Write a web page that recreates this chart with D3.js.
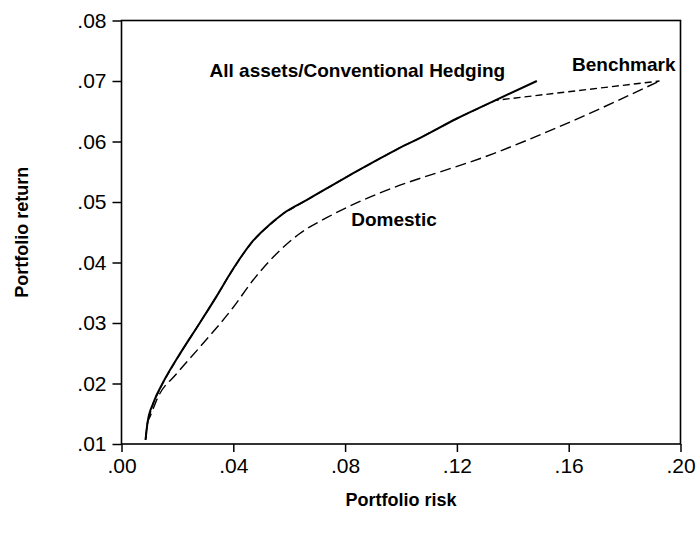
<!DOCTYPE html>
<html>
<head>
<meta charset="utf-8">
<script src="https://cdn.jsdelivr.net/npm/d3@7"></script>
<style>
  html, body { margin: 0; padding: 0; background: #fff; }
  svg { display: block; }
  text { font-family: "Liberation Sans", Arial, Helvetica, sans-serif; fill: #000; }
</style>
</head>
<body>
<svg id="chart" width="699" height="537"></svg>
<script>
// ---- Data ----
const xTicks = [0.00, 0.04, 0.08, 0.12, 0.16, 0.20];
const yTicks = [0.01, 0.02, 0.03, 0.04, 0.05, 0.06, 0.07, 0.08];

// All assets / Conventional Hedging (solid)
const allRisk   = [0.0086, 0.0093, 0.0113, 0.0149, 0.0209, 0.0280, 0.0340, 0.0388, 0.0435, 0.0471, 0.0507, 0.0579, 0.0662, 0.0800, 0.0925, 0.0997, 0.1056, 0.1200, 0.1337, 0.1486];
const allReturn = [0.0107, 0.0135, 0.0167, 0.0202, 0.0249, 0.0300, 0.0344, 0.0381, 0.0414, 0.0436, 0.0453, 0.0481, 0.0503, 0.0540, 0.0572, 0.0590, 0.0603, 0.0638, 0.0668, 0.0700];

// Benchmark (short dashes) – coincides with the solid frontier, then branches off
const benchRisk   = [0.0086, 0.0093, 0.0113, 0.0149, 0.0209, 0.0280, 0.0340, 0.0388, 0.0435, 0.0471, 0.0507, 0.0579, 0.0662, 0.0800, 0.0925, 0.0997, 0.1056, 0.1200, 0.1337, 0.1925];
const benchReturn = [0.0107, 0.0135, 0.0167, 0.0202, 0.0249, 0.0300, 0.0344, 0.0381, 0.0414, 0.0436, 0.0453, 0.0481, 0.0503, 0.0540, 0.0572, 0.0590, 0.0603, 0.0638, 0.0668, 0.0700];

// Domestic (long dashes)
const domRisk   = [0.0086, 0.0093, 0.0102, 0.0131, 0.0197, 0.0280, 0.0400, 0.0471, 0.0543, 0.0638, 0.0734, 0.0853, 0.0925, 0.1331, 0.1594, 0.1925];
const domReturn = [0.0107, 0.0135, 0.0145, 0.0178, 0.0216, 0.0260, 0.0326, 0.0371, 0.0409, 0.0448, 0.0474, 0.0501, 0.0515, 0.0580, 0.0630, 0.0700];

const labels = [
  { text: "All assets/Conventional Hedging", x: 0.0315, y: 0.0706 },
  { text: "Benchmark",                       x: 0.1612, y: 0.0716 },
  { text: "Domestic",                        x: 0.0822, y: 0.0461 }
];

// ---- Layout ----
const svg = d3.select("#chart");
const margin = { left: 121.5, right: 18.5, top: 20.5, bottom: 93 };
const W = 699, H = 537;
const x = d3.scaleLinear().domain([0, 0.20]).range([margin.left, W - margin.right]);
const y = d3.scaleLinear().domain([0.01, 0.08]).range([H - margin.bottom, margin.top]);

const fmt = d => d3.format(".2f")(d).replace(/^0/, "");

// axes
const xAxis = svg.append("g")
  .attr("transform", `translate(0,${H - margin.bottom})`)
  .call(d3.axisBottom(x).tickValues(xTicks).tickFormat(fmt).tickSize(8).tickPadding(6));
const yAxis = svg.append("g")
  .attr("transform", `translate(${margin.left},0)`)
  .call(d3.axisLeft(y).tickValues(yTicks).tickFormat(fmt).tickSize(9).tickPadding(6));

[xAxis, yAxis].forEach(a => {
  a.select(".domain").remove();
  a.selectAll(".tick line").attr("stroke", "#000").attr("stroke-width", 1.5);
  a.selectAll(".tick text").attr("font-size", 21).attr("font-family", "Liberation Sans, Arial, sans-serif").attr("fill", "#000");
});

// frame
svg.append("rect")
  .attr("x", margin.left).attr("y", margin.top)
  .attr("width", W - margin.right - margin.left)
  .attr("height", H - margin.bottom - margin.top)
  .attr("fill", "none").attr("stroke", "#000").attr("stroke-width", 1.6);

// lines
const smooth = d3.line().x(d => x(d[0])).y(d => y(d[1])).curve(d3.curveMonotoneX);
const straight = d3.line().x(d => x(d[0])).y(d => y(d[1])).curve(d3.curveLinear);
const zip = (a, b) => a.map((v, i) => [v, b[i]]);

svg.append("path").datum(zip(domRisk, domReturn))
  .attr("d", smooth).attr("fill", "none").attr("stroke", "#000")
  .attr("stroke-width", 1.4).attr("stroke-dasharray", "11,5");

svg.append("path").datum(zip(benchRisk, benchReturn))
  .attr("d", straight).attr("fill", "none").attr("stroke", "#000")
  .attr("stroke-width", 1.4).attr("stroke-dasharray", "7,4");

svg.append("path").datum(zip(allRisk, allReturn))
  .attr("d", smooth).attr("fill", "none").attr("stroke", "#000")
  .attr("stroke-width", 2);

// annotations
svg.selectAll("text.ann").data(labels).enter().append("text")
  .attr("class", "ann")
  .attr("x", d => x(d.x)).attr("y", d => y(d.y))
  .attr("font-size", 19).attr("font-weight", "bold")
  .text(d => d.text);

// axis titles
svg.append("text")
  .attr("x", (margin.left + W - margin.right) / 2).attr("y", 506)
  .attr("text-anchor", "middle").attr("font-size", 18).attr("font-weight", "bold")
  .text("Portfolio risk");

svg.append("text")
  .attr("transform", `translate(28,${(margin.top + H - margin.bottom) / 2}) rotate(-90)`)
  .attr("text-anchor", "middle").attr("font-size", 18).attr("font-weight", "bold")
  .text("Portfolio return");
</script>
</body>
</html>
